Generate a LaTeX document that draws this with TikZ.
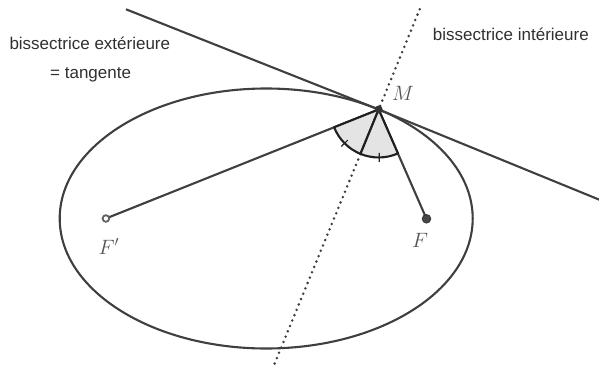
\documentclass[tikz,border=0pt]{standalone}
\usepackage{fontspec}
\setsansfont{Liberation Sans}
\usetikzlibrary{calc}
\definecolor{ink}{HTML}{3F3F3F}
\definecolor{txt}{HTML}{303030}
\definecolor{lbl}{HTML}{555555}
\definecolor{sec}{HTML}{E4E4E4}
\begin{document}
\begin{tikzpicture}[x=1pt,y=1pt,
  curve/.style={draw=ink, line width=2.1pt},
  dotline/.style={draw=ink, line width=2.8pt, line cap=round, dash pattern=on 0pt off 5.8pt},
  sector/.style={fill=sec, draw=black!88, line width=2.1pt, line join=round},
  tickmark/.style={draw=black!85, line width=1.2pt},
  caption/.style={font=\sffamily\fontsize{17}{20}\selectfont, text=txt, inner sep=0pt, anchor=base west},
  ptlabel/.style={font=\fontsize{21}{24}\selectfont, text=lbl, inner sep=0pt, anchor=base west}]
\useasboundingbox (0,0) rectangle (599,-364);
\clip (0,0) rectangle (599,-364);
\coordinate (O) at (266.2,-218.5);
\coordinate (M) at ($(O)+(57:206.5pt and 130pt)$);
\coordinate (Fp) at (105.9,-218.5);
\coordinate (F) at (426.5,-218.8);
\coordinate (TL) at (126,-9.3);
\coordinate (TR) at (602,-200.8);
\coordinate (BT) at ($(M)+(67.73:108.3pt)$);
\coordinate (BB) at ($(M)+(247.73:290pt)$);
% ellipse
\draw[curve] (O) ellipse [x radius=206.5pt, y radius=130pt];
% tangent = external bisector
\draw[curve] (TL) -- (M) -- (TR);
% internal bisector
\draw[dotline] (BT) -- (BB);
% focal radii
\draw[curve] (Fp) -- (M) -- (F);
% angle sectors
\filldraw[sector] (M) -- ($(M)+(201.78:48pt)$) arc[start angle=201.78, end angle=247.73, radius=48pt] -- cycle;
\filldraw[sector] (M) -- ($(M)+(247.73:48pt)$) arc[start angle=247.73, end angle=293.68, radius=48pt] -- cycle;
\draw[tickmark] ($(M)+(224.75:43.5pt)$) -- ($(M)+(224.75:52.5pt)$);
\draw[tickmark] ($(M)+(270.7:43.5pt)$) -- ($(M)+(270.7:52.5pt)$);
% points
\fill[black!80] (M) circle (4pt);
\filldraw[fill=black!72, draw=black!80, line width=0.8pt] (F) circle (4.3pt);
\filldraw[fill=white, draw=black!62, line width=1.8pt] (Fp) circle (3.3pt);
% labels
\node[ptlabel] (lM) at (392,-100) {$M$};
\node[ptlabel] (lF) at (412,-247.7) {$F$};
\node[ptlabel] (lFp) at (98.5,-254) {$F'$};
\node[caption] (ext) at (9.3,-49.3) {bissectrice extérieure};
\node[caption] (tan) at (50,-78.5) {= tangente};
\node[caption] (int) at (432.7,-40) {bissectrice intérieure};
\end{tikzpicture}
\end{document}
